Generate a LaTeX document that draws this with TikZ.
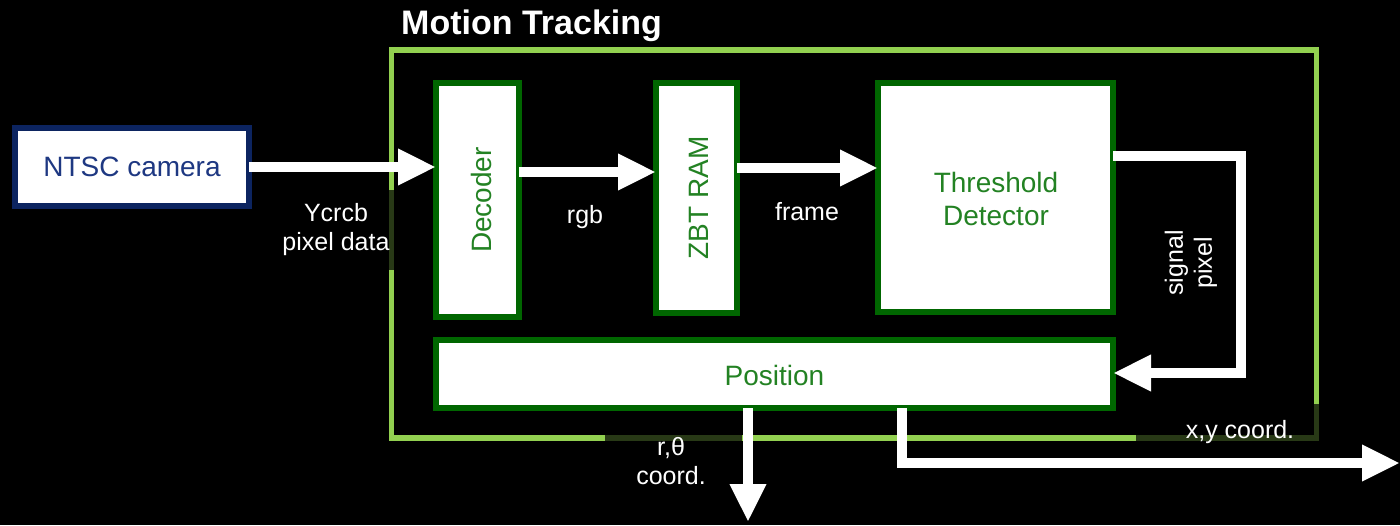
\documentclass[tikz,border=0pt]{standalone}
\usepackage{fontspec}
\setmainfont{Liberation Sans}
\usetikzlibrary{arrows.meta}
\definecolor{frameg}{RGB}{146,208,80}
\definecolor{dkg}{RGB}{0,102,0}
\definecolor{txg}{RGB}{35,130,35}
\definecolor{navyb}{RGB}{12,36,96}
\definecolor{navyt}{RGB}{30,56,130}
\tikzset{
  blk/.style={draw=dkg, line width=6pt, fill=white, outer sep=0pt, inner sep=0pt},
  gtext/.style={text=txg, font=\fontsize{28}{33}\selectfont, align=center, inner sep=0pt},
  wlab/.style={text=white, font=\fontsize{25}{29}\selectfont, align=center, inner sep=0pt},
  arr/.style={draw=white, line width=10pt, line join=miter, -{Triangle[length=38pt,width=34pt]}},
  lbg/.style={fill=black, fill opacity=0.72, draw=none},
}
\begin{document}
\begin{tikzpicture}[x=1pt,y=-1pt]
\useasboundingbox (0,0) rectangle (1400,525);
\fill[black] (0,0) rectangle (1400,525);
% outer frame
\draw[frameg, line width=5.5pt] (391.5,50) rectangle (1316.5,438);
% label backgrounds
\fill[lbg] (280,190) rectangle (396,270);
\fill[lbg] (605,432) rectangle (742,492);
\fill[lbg] (1136,404) rectangle (1321,460);
% title
\node[anchor=base west, text=white, font=\fontsize{34}{40}\selectfont\bfseries, inner sep=0pt] (title) at (401,34) {Motion Tracking};
% camera
\node[draw=navyb, line width=6pt, fill=white, outer sep=0pt, minimum width=234pt, minimum height=78pt, text=navyt, font=\fontsize{28}{33}\selectfont] (cam) at (132,167) {NTSC camera};
% blocks
\node[blk, minimum width=83pt, minimum height=234pt] (dec) at (477.5,200) {};
\node[gtext, rotate=90] (dect) at (481,200) {Decoder};
\node[blk, minimum width=81pt, minimum height=230pt] (zbt) at (696.5,198) {};
\node[gtext, rotate=90] (zbtt) at (699,198) {ZBT RAM};
\node[blk, minimum width=235pt, minimum height=229pt] (thr) at (995.5,197.5) {};
\node[gtext] (thrt) at (996,199) {Threshold\\Detector};
\node[blk, minimum width=677pt, minimum height=68pt] (pos) at (774.5,374) {};
\node[gtext] (post) at (774.5,375) {Position};
% arrows
\draw[arr] (cam.east) -- (cam.east -| dec.west);
\draw[arr] ([yshift=28pt]dec.east) -- ([yshift=28pt]dec.east -| zbt.west);
\draw[arr] ([yshift=30pt]zbt.east) -- ([yshift=30pt]zbt.east -| thr.west);
\coordinate (sp) at (1241,373);
\draw[arr] ([yshift=41.5pt]thr.east) -| (sp) -- (sp -| pos.east);
\coordinate (rt) at (748,522);
\draw[arr] (rt |- pos.south) -- (rt);
\coordinate (xyc) at (902,463);
\coordinate (xyo) at (1400,463);
\draw[arr] (xyc |- pos.south) -- (xyc) -- (xyo);
% labels
\node[wlab] (ycl) at (336,230) {Ycrcb\\pixel data};
\node[wlab] (rgbl) at (585,217) {rgb};
\node[wlab] (frl) at (807,212) {frame};
\node[wlab, rotate=90] (spl) at (1191,263) {signal\\pixel};
\node[wlab] (rtl) at (671,461) {r,θ\\coord.};
\node[wlab] (xyl) at (1240,432) {x,y coord.};
\end{tikzpicture}
\end{document}
